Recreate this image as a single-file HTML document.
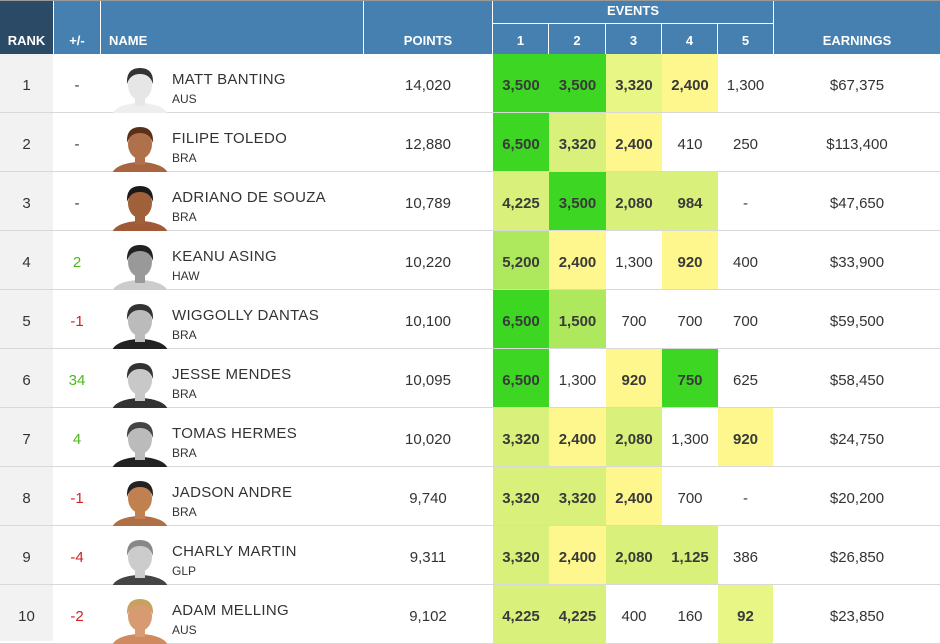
<!DOCTYPE html>
<html><head><meta charset="utf-8"><style>
*{margin:0;padding:0;box-sizing:border-box}
body{width:940px;height:641px;overflow:hidden;background:#fff;font-family:"Liberation Sans",sans-serif;color:#333;position:relative}
.a{position:absolute}
.h{background:#4580b0;color:#fff;font-weight:bold;font-size:13px;text-align:center}
.row{position:absolute;left:0;width:940px;height:59px;border-bottom:1.5px solid #d8d8d8}
.c{position:absolute;top:0;height:100%;display:flex;align-items:center;justify-content:center;font-size:15px;padding-top:4px}
.e{font-weight:bold;color:#3a3a3a}
.nm{position:absolute;left:172px;top:17px;font-size:15px;letter-spacing:0.3px;color:#333}
.ct{position:absolute;left:172px;top:38px;font-size:12px;color:#333}
.G{background:#3dd622}.L{background:#aee85c}.Y{background:#d9f07a}.W{background:#fdf78e}.P{background:#e8f685}
</style></head><body>
<div class="a" style="left:0;top:0;width:940px;height:1px;background:#999"></div>
<div class="a h" style="left:0;top:1px;width:53px;height:53px;background:#2b4a66"><div class="a" style="left:0;top:32px;width:53px">RANK</div></div>
<div class="a h" style="left:54px;top:1px;width:46px;height:53px"><div class="a" style="left:0;top:32px;width:46px">+/-</div></div>
<div class="a h" style="left:101px;top:1px;width:262px;height:53px;text-align:left"><div class="a" style="left:8px;top:32px">NAME</div></div>
<div class="a h" style="left:364px;top:1px;width:128px;height:53px"><div class="a" style="left:0;top:32px;width:128px">POINTS</div></div>
<div class="a h" style="left:493px;top:1px;width:280px;height:22px"><div class="a" style="left:0;top:2px;width:280px">EVENTS</div></div>
<div class="a h" style="left:493px;top:24px;width:55px;height:30px"><div class="a" style="left:0;top:9px;width:55px">1</div></div>
<div class="a h" style="left:549px;top:24px;width:56px;height:30px"><div class="a" style="left:0;top:9px;width:56px">2</div></div>
<div class="a h" style="left:606px;top:24px;width:55px;height:30px"><div class="a" style="left:0;top:9px;width:55px">3</div></div>
<div class="a h" style="left:662px;top:24px;width:55px;height:30px"><div class="a" style="left:0;top:9px;width:55px">4</div></div>
<div class="a h" style="left:718px;top:24px;width:55px;height:30px"><div class="a" style="left:0;top:9px;width:55px">5</div></div>
<div class="a h" style="left:774px;top:1px;width:166px;height:53px"><div class="a" style="left:0;top:32px;width:166px">EARNINGS</div></div>
<div class="a" style="left:0;top:54px;width:53px;height:587px;background:#f2f2f2"></div>
<div id="rows"></div>
<script>
var d=[
[1,"-","MATT BANTING","AUS","14,020",[["3,500","G"],["3,500","G"],["3,320","P"],["2,400","W"],["1,300",""]],"$67,375",["#e6e6e6","#333","#eee"]],
[2,"-","FILIPE TOLEDO","BRA","12,880",[["6,500","G"],["3,320","Y"],["2,400","W"],["410",""],["250",""]],"$113,400",["#b0704a","#5a3018","#a86540"]],
[3,"-","ADRIANO DE SOUZA","BRA","10,789",[["4,225","Y"],["3,500","G"],["2,080","Y"],["984","Y"],["-",""]],"$47,650",["#a0603a","#1a1a1a","#a05a38"]],
[4,"2","KEANU ASING","HAW","10,220",[["5,200","L"],["2,400","W"],["1,300",""],["920","W"],["400",""]],"$33,900",["#999","#222","#ccc"]],
[5,"-1","WIGGOLLY DANTAS","BRA","10,100",[["6,500","G"],["1,500","L"],["700",""],["700",""],["700",""]],"$59,500",["#bbb","#333","#222"]],
[6,"34","JESSE MENDES","BRA","10,095",[["6,500","G"],["1,300",""],["920","W"],["750","G"],["625",""]],"$58,450",["#c8c8c8","#333","#333"]],
[7,"4","TOMAS HERMES","BRA","10,020",[["3,320","Y"],["2,400","W"],["2,080","Y"],["1,300",""],["920","W"]],"$24,750",["#bbb","#444","#222"]],
[8,"-1","JADSON ANDRE","BRA","9,740",[["3,320","Y"],["3,320","Y"],["2,400","W"],["700",""],["-",""]],"$20,200",["#c08050","#222","#b07045"]],
[9,"-4","CHARLY MARTIN","GLP","9,311",[["3,320","Y"],["2,400","W"],["2,080","Y"],["1,125","Y"],["386",""]],"$26,850",["#ccc","#888","#444"]],
[10,"-2","ADAM MELLING","AUS","9,102",[["4,225","Y"],["4,225","Y"],["400",""],["160",""],["92","P"]],"$23,850",["#d89a70","#c8a060","#d08a60"]]];
var ex=[[493,56],[549,57],[606,56],[662,56],[718,55]];
var h="";
d.forEach(function(r,i){
 var top=54+i*59;
 var cc=r[1]=="-"?"#333":(r[1][0]=="-"?"#d42020":"#4cb81a");
 h+='<div class="row" style="top:'+top+'px">';
 h+='<div class="c" style="left:0;width:53px">'+r[0]+'</div>';
 h+='<div class="c" style="left:54px;width:46px;color:'+cc+'">'+r[1]+'</div>';
 var a=r[7];
 h+='<svg class="a" style="left:112px;top:10px" width="56" height="49"><ellipse cx="28" cy="52" rx="28" ry="13" fill="'+a[2]+'"/><rect x="23" y="28" width="10" height="14" fill="'+a[0]+'"/><ellipse cx="28" cy="21" rx="12" ry="15" fill="'+a[0]+'"/><path d="M15 20 Q14 4 28 4 Q42 4 41 20 Q38 10 28 10 Q18 10 15 20Z" fill="'+a[1]+'"/></svg>';
 h+='<div class="nm">'+r[2]+'</div><div class="ct">'+r[3]+'</div>';
 h+='<div class="c" style="left:364px;width:128px">'+r[4]+'</div>';
 r[5].forEach(function(e,j){
  h+='<div class="c '+(e[1]?e[1]+' e':'')+'" style="left:'+ex[j][0]+'px;width:'+ex[j][1]+'px">'+e[0]+'</div>';
 });
 h+='<div class="c" style="left:774px;width:166px">'+r[6]+'</div>';
 h+='</div>';
});
document.getElementById("rows").innerHTML=h;
</script>
</body></html>
